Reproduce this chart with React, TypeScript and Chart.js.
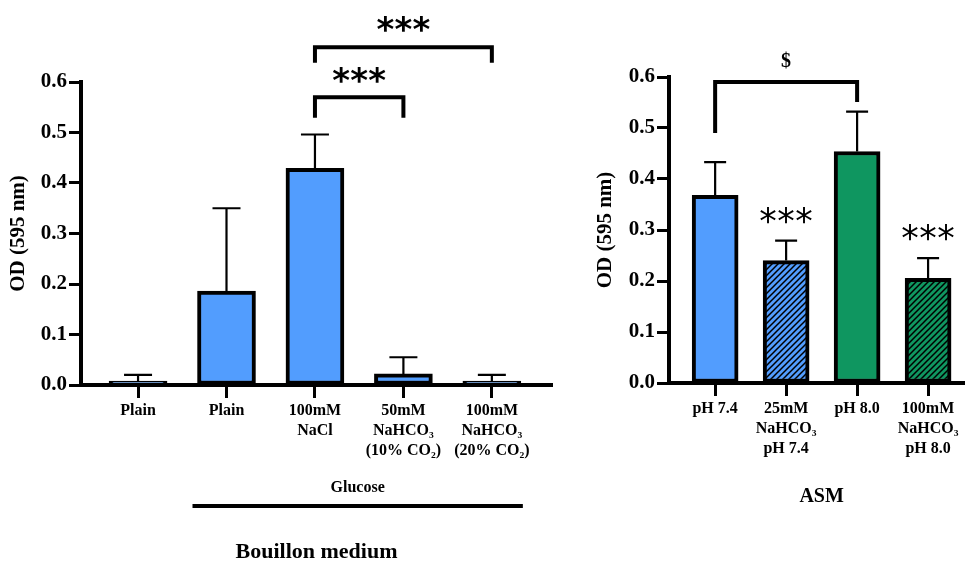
import React, { useEffect, useRef } from 'react';
import { Chart, registerables } from 'chart.js';

Chart.register(...registerables);

// ---------- data ----------
const leftLabels: string[][] = [
  ['Plain'],
  ['Plain'],
  ['100mM', 'NaCl'],
  ['50mM', 'NaHCO₃', '(10% CO₂)'],
  ['100mM', 'NaHCO₃', '(20% CO₂)'],
];
const leftValues = [0.008, 0.186, 0.429, 0.022, 0.008];
const leftErrors = [0.012, 0.164, 0.067, 0.033, 0.012];

const rightLabels: string[][] = [
  ['pH 7.4'],
  ['25mM', 'NaHCO₃', 'pH 7.4'],
  ['pH 8.0'],
  ['100mM', 'NaHCO₃', 'pH 8.0'],
];
const rightValues = [0.368, 0.240, 0.454, 0.205];
const rightErrors = [0.065, 0.039, 0.078, 0.040];

const yTickValues = [0, 0.1, 0.2, 0.3, 0.4, 0.5, 0.6];

// significance annotations (in data units)
const leftBrackets = [
  { from: 2, to: 3, top: 0.570, legFrom: 0.529, legTo: 0.529, label: '***', labelY: 0.614 },
  { from: 2, to: 4, top: 0.669, legFrom: 0.638, legTo: 0.638, label: '***', labelY: 0.714 },
];
const rightBrackets = [
  { from: 0, to: 2, top: 0.590, legFrom: 0.490, legTo: 0.551, label: '$', labelY: 0.630 },
];
const rightStars = [
  { index: 1, label: '***', gap: 0.05 },
  { index: 3, label: '***', gap: 0.05 },
];

const BLUE = '#529DFE';
const GREEN = '#0F9660';
const SERIF = '"Liberation Serif", "Times New Roman", serif';
const SANS = '"DejaVu Sans", sans-serif';

function hatch(color: string): CanvasPattern | string {
  const c = document.createElement('canvas');
  c.width = 6;
  c.height = 6;
  const g = c.getContext('2d');
  if (!g) return color;
  g.fillStyle = color;
  g.fillRect(0, 0, 6, 6);
  g.strokeStyle = '#000';
  g.lineWidth = 1.5;
  g.beginPath();
  g.moveTo(0, 6);
  g.lineTo(6, 0);
  g.moveTo(-1, 1);
  g.lineTo(1, -1);
  g.moveTo(5, 7);
  g.lineTo(7, 5);
  g.stroke();
  return g.createPattern(c, 'repeat') || color;
}

function drawStars(ctx: CanvasRenderingContext2D, cx: number, cy: number, weight: string, size: number) {
  ctx.save();
  ctx.font = `${weight} ${size}px ${SANS}`;
  ctx.fillStyle = '#000';
  ctx.textAlign = 'center';
  ctx.textBaseline = 'alphabetic';
  const m = ctx.measureText('*');
  const yy = cy + (m.actualBoundingBoxAscent - m.actualBoundingBoxDescent) / 2;
  for (let k = -1; k <= 1; k++) ctx.fillText('*', cx + k * 18, yy);
  ctx.restore();
}

function errorBars(values: number[], errors: number[], capW: number) {
  return {
    id: 'errbars',
    afterDatasetsDraw(chart: any) {
      const ctx = chart.ctx as CanvasRenderingContext2D;
      const xs = chart.scales.x;
      const ys = chart.scales.y;
      ctx.save();
      ctx.strokeStyle = '#000';
      ctx.lineWidth = 2.2;
      values.forEach((v, i) => {
        const px = xs.getPixelForValue(i);
        const y0 = ys.getPixelForValue(v);
        const y1 = ys.getPixelForValue(v + errors[i]);
        ctx.beginPath();
        ctx.moveTo(px, y0);
        ctx.lineTo(px, y1);
        ctx.moveTo(px - capW / 2, y1);
        ctx.lineTo(px + capW / 2, y1);
        ctx.stroke();
      });
      ctx.restore();
    },
  };
}

function drawBracket(chart: any, b: any) {
  const ctx = chart.ctx as CanvasRenderingContext2D;
  const xs = chart.scales.x;
  const ys = chart.scales.y;
  const x1 = xs.getPixelForValue(b.from);
  const x2 = xs.getPixelForValue(b.to);
  const yt = ys.getPixelForValue(b.top);
  ctx.save();
  ctx.strokeStyle = '#000';
  ctx.lineWidth = 4;
  ctx.lineJoin = 'miter';
  ctx.beginPath();
  ctx.moveTo(x1, ys.getPixelForValue(b.legFrom));
  ctx.lineTo(x1, yt);
  ctx.lineTo(x2, yt);
  ctx.lineTo(x2, ys.getPixelForValue(b.legTo));
  ctx.stroke();
  ctx.restore();
}

const scaleCommon = (labels: string[][], min: number, max: number, xHeight: number, yWidth: number, titlePad: number) => ({
  x: {
    type: 'linear',
    min,
    max,
    offset: false,
    afterBuildTicks: (s: any) => {
      s.ticks = labels.map((_, i) => ({ value: i }));
    },
    afterFit: (s: any) => {
      s.height = xHeight;
      s.paddingLeft = 0;
      s.paddingRight = 0;
    },
    ticks: {
      autoSkip: false,
      maxRotation: 0,
      padding: 3,
      color: '#000',
      font: { family: SERIF, size: 16, weight: 'bold', lineHeight: 1.25 },
      callback: (_v: any, i: number) => labels[i],
    },
    grid: { offset: false, drawOnChartArea: false, drawTicks: true, tickLength: 13, tickWidth: 3, color: '#000' },
    border: { display: true, width: 4, color: '#000' },
  },
  y: {
    min: 0,
    max: 0.6,
    afterBuildTicks: (s: any) => {
      s.ticks = yTickValues.map((v) => ({ value: v }));
    },
    afterFit: (s: any) => {
      s.width = yWidth;
    },
    ticks: {
      padding: 2,
      color: '#000',
      font: { family: SERIF, size: 21, weight: 'bold' },
      callback: (v: any) => Number(v).toFixed(1),
    },
    grid: { drawOnChartArea: false, drawTicks: true, tickLength: 12, tickWidth: 3, color: '#000' },
    border: { display: true, width: 4, color: '#000' },
    title: {
      display: true,
      text: 'OD (595 nm)',
      color: '#000',
      font: { family: SERIF, size: 21, weight: 'bold' },
      padding: { top: titlePad, bottom: 0 },
    },
  },
});

export default function App() {
  const leftRef = useRef<HTMLCanvasElement>(null);
  const rightRef = useRef<HTMLCanvasElement>(null);

  useEffect(() => {
    if (!leftRef.current || !rightRef.current) return;
    const leftBarW = 58;
    const leftAnnot = {
      id: 'leftAnnot',
      afterDraw(chart: any) {
        const ctx = chart.ctx as CanvasRenderingContext2D;
        const xs = chart.scales.x;
        const ys = chart.scales.y;
        leftBrackets.forEach((b) => {
          drawBracket(chart, b);
          drawStars(ctx, (xs.getPixelForValue(b.from) + xs.getPixelForValue(b.to)) / 2, ys.getPixelForValue(b.labelY), 'bold', 34);
        });
        const bottom = chart.chartArea.bottom;
        const gx1 = xs.getPixelForValue(1) - leftBarW / 2 - 5;
        const gx2 = xs.getPixelForValue(4) + leftBarW / 2 + 2;
        ctx.save();
        ctx.fillStyle = '#000';
        ctx.textAlign = 'center';
        ctx.textBaseline = 'middle';
        ctx.font = `bold 16px ${SERIF}`;
        ctx.fillText('Glucose', (gx1 + gx2) / 2, bottom + 103);
        ctx.strokeStyle = '#000';
        ctx.lineWidth = 4;
        ctx.beginPath();
        ctx.moveTo(gx1, bottom + 121);
        ctx.lineTo(gx2, bottom + 121);
        ctx.stroke();
        ctx.font = `bold 22px ${SERIF}`;
        ctx.fillText('Bouillon medium', (chart.chartArea.left + chart.chartArea.right) / 2, bottom + 167);
        ctx.restore();
      },
    };

    const left = new Chart(leftRef.current, {
      type: 'bar',
      data: {
        datasets: [
          {
            data: leftValues.map((v, i) => ({ x: i, y: v })),
            backgroundColor: BLUE,
            borderColor: '#000',
            borderWidth: 4,
            borderSkipped: false,
            barThickness: leftBarW,
          } as any,
        ],
      },
      options: {
        animation: false,
        responsive: false,
        devicePixelRatio: 1,
        layout: { padding: { top: 82, right: 13, left: 0, bottom: 0 } },
        plugins: { legend: { display: false }, tooltip: { enabled: false } },
        scales: scaleCommon(leftLabels, -0.645, 4.68, 178, 81, 6) as any,
      },
      plugins: [errorBars(leftValues, leftErrors, 28), leftAnnot],
    });

    const rightAnnot = {
      id: 'rightAnnot',
      afterDraw(chart: any) {
        const ctx = chart.ctx as CanvasRenderingContext2D;
        const xs = chart.scales.x;
        const ys = chart.scales.y;
        rightBrackets.forEach((b) => {
          drawBracket(chart, b);
          ctx.save();
          ctx.fillStyle = '#000';
          ctx.textAlign = 'center';
          ctx.textBaseline = 'middle';
          ctx.font = `bold 20px ${SERIF}`;
          ctx.fillText(b.label, (xs.getPixelForValue(b.from) + xs.getPixelForValue(b.to)) / 2, ys.getPixelForValue(b.labelY));
          ctx.restore();
        });
        rightStars.forEach((s) => {
          const top = rightValues[s.index] + rightErrors[s.index] + s.gap;
          drawStars(ctx, xs.getPixelForValue(s.index), ys.getPixelForValue(top), 'normal', 35);
        });
        const bottom = chart.chartArea.bottom;
        ctx.save();
        ctx.fillStyle = '#000';
        ctx.textAlign = 'center';
        ctx.textBaseline = 'middle';
        ctx.font = `bold 20px ${SERIF}`;
        ctx.fillText('ASM', (xs.getPixelForValue(0) + xs.getPixelForValue(rightLabels.length - 1)) / 2, bottom + 114);
        ctx.restore();
      },
    };

    const right = new Chart(rightRef.current, {
      type: 'bar',
      data: {
        datasets: [
          {
            data: rightValues.map((v, i) => ({ x: i, y: v })),
            backgroundColor: [BLUE, hatch(BLUE), GREEN, hatch(GREEN)],
            borderColor: '#000',
            borderWidth: 4,
            borderSkipped: false,
            barThickness: 46,
          } as any,
        ],
      },
      options: {
        animation: false,
        responsive: false,
        devicePixelRatio: 1,
        layout: { padding: { top: 77, right: 0, left: 0, bottom: 0 } },
        plugins: { legend: { display: false }, tooltip: { enabled: false } },
        scales: scaleCommon(rightLabels, -0.65, 3.52, 180, 89, 13) as any,
      },
      plugins: [errorBars(rightValues, rightErrors, 22), rightAnnot],
    });

    return () => {
      left.destroy();
      right.destroy();
    };
  }, []);

  return (
    <div style={{ position: 'absolute', left: 0, top: 0, width: 965, height: 563, background: '#fff', overflow: 'hidden' }}>
      <canvas ref={leftRef} width={565} height={563} style={{ position: 'absolute', left: 0, top: 0 }} />
      <canvas ref={rightRef} width={385} height={563} style={{ position: 'absolute', left: 580, top: 0 }} />
    </div>
  );
}
